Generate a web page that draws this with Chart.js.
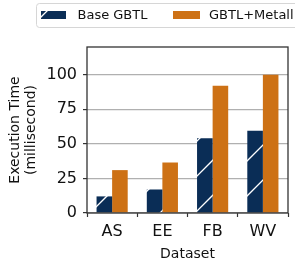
<!DOCTYPE html>
<html>
<head>
<meta charset="utf-8">
<script src="https://cdn.jsdelivr.net/npm/chart.js@4.4.1/dist/chart.umd.min.js"></script>
<style>
    html, body { margin: 0; padding: 0; background: #fff; }
    #wrap { width: 295px; height: 264px; position: relative; }
</style>
</head>
<body>
<div id="wrap"><canvas id="chart"></canvas></div>
<script>
    const datasets = ['AS', 'EE', 'FB', 'WV'];
    const baseGbtl = [12, 17, 54, 59.5];
    const gbtlMetall = [31, 36.5, 92, 100];
    const seriesNames = ['Base GBTL', 'GBTL+Metall'];
    const yTicks = [0, 25, 50, 75, 100];

    const colors = {
        navy: '#0a2d56',
        orange: '#cd7115',
        grid: '#b0b0b0',
        axis: '#333333',
        text: '#111111'
    };

    function makeHatch() {
        const size = 35;
        const tile = document.createElement('canvas');
        tile.width = size;
        tile.height = size;
        const c = tile.getContext('2d');
        c.fillStyle = colors.navy;
        c.fillRect(0, 0, size, size);
        c.strokeStyle = '#ffffff';
        c.lineWidth = 1.3;
        c.beginPath();
        c.moveTo(-2, 25); c.lineTo(25, -2);
        c.moveTo(21, 37); c.lineTo(37, 21);
        c.stroke();
        return c.createPattern(tile, 'repeat');
    }

    const ctx = document.getElementById('chart').getContext('2d');
    const hatch = makeHatch();

    const framePlugin = {
        id: 'frame',
        afterDatasetsDraw(chart) {
            const a = chart.chartArea;
            const g = chart.ctx;
            g.save();
            g.strokeStyle = colors.axis;
            g.lineWidth = 1.3;
            g.strokeRect(a.left, a.top, a.right - a.left, a.bottom - a.top);
            g.restore();
        }
    };

    const legendPlugin = {
        id: 'boxLegend',
        afterDraw(chart) {
            const g = chart.ctx;
            g.save();
            // box runs off the right edge like the original
            g.fillStyle = 'rgba(255,255,255,0.9)';
            g.strokeStyle = '#d6d6d6';
            g.lineWidth = 1;
            g.beginPath();
            g.roundRect(36.5, 3.5, 290, 24, 3);
            g.fill();
            g.stroke();

            g.fillStyle = hatch;
            g.fillRect(41, 11, 25, 8);
            g.fillStyle = colors.orange;
            g.fillRect(173, 11, 27, 8);

            g.fillStyle = colors.text;
            g.font = '13px "DejaVu Sans"';
            g.textBaseline = 'middle';
            g.fillText(seriesNames[0], 77.5, 15.5);
            g.fillText(seriesNames[1], 209, 15.5);
            g.restore();
        }
    };

    new Chart(ctx, {
        type: 'bar',
        data: {
            labels: datasets,
            datasets: [
                {
                    label: seriesNames[0],
                    data: baseGbtl,
                    backgroundColor: hatch,
                    borderWidth: 0,
                    categoryPercentage: 0.62,
                    barPercentage: 1
                },
                {
                    label: seriesNames[1],
                    data: gbtlMetall,
                    backgroundColor: colors.orange,
                    borderWidth: 0,
                    categoryPercentage: 0.62,
                    barPercentage: 1
                }
            ]
        },
        options: {
            responsive: true,
            maintainAspectRatio: false,
            animation: false,
            layout: { padding: { top: 47, right: 7, left: 0, bottom: 0 } },
            plugins: {
                legend: { display: false },
                tooltip: { enabled: false }
            },
            scales: {
                x: {
                    grid: {
                        drawOnChartArea: false,
                        drawTicks: true,
                        tickLength: 4,
                        tickColor: colors.axis,
                        tickWidth: 1.2
                    },
                    border: { display: false },
                    ticks: {
                        color: colors.text,
                        font: { family: 'DejaVu Sans', size: 16 },
                        padding: 5
                    },
                    title: {
                        display: true,
                        text: 'Dataset',
                        color: colors.text,
                        font: { family: 'DejaVu Sans', size: 14 },
                        padding: { top: 0, bottom: 1 }
                    },
                    afterFit(scale) { scale.height = 51; }
                },
                y: {
                    min: 0,
                    max: 120,
                    afterBuildTicks(scale) {
                        scale.ticks = yTicks.map((v) => ({ value: v }));
                    },
                    grid: {
                        color: colors.grid,
                        lineWidth: 1.2,
                        drawTicks: true,
                        tickLength: 4,
                        tickColor: colors.axis,
                        tickWidth: 1.2
                    },
                    border: { display: false },
                    ticks: {
                        color: colors.text,
                        font: { family: 'DejaVu Sans', size: 16 },
                        padding: 6
                    },
                    title: {
                        display: true,
                        text: ['Execution Time', '(millisecond)'],
                        color: colors.text,
                        font: { family: 'DejaVu Sans', size: 14, lineHeight: 1.1 },
                        padding: { top: 8, bottom: 0 }
                    },
                    afterFit(scale) { scale.width = 87; }
                }
            }
        },
        plugins: [framePlugin, legendPlugin]
    });
</script>
</body>
</html>
